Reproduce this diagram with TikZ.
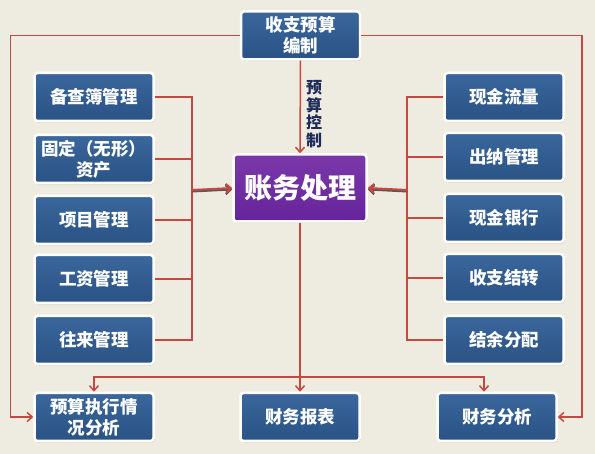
\documentclass[tikz,border=0pt]{standalone}
\usepackage{fontspec}
\setmainfont{Noto Sans CJK SC}
\usepackage{tikz}
\usetikzlibrary{arrows.meta, shadows}

\definecolor{bgpaper}{HTML}{EEEBE0}
\definecolor{boxtop}{HTML}{3A679C}
\definecolor{boxbot}{HTML}{2A5285}
\definecolor{mainTop}{HTML}{7A38AA}
\definecolor{mainBot}{HTML}{65249A}
\definecolor{wirered}{HTML}{C8473F}
\definecolor{navy}{HTML}{1E2C5C}

\begin{document}
\begin{tikzpicture}[x=1pt, y=-1pt,
		box/.style={rounded corners=3pt, draw=white, line width=2.5pt, top color=boxtop, bottom color=boxbot,
			minimum width=119pt, minimum height=48pt, inner sep=1pt, align=center, text=white,
			font=\bfseries\fontsize{17.5}{21}\selectfont,
			drop shadow={shadow xshift=1pt, shadow yshift=-1.5pt, opacity=0.35}},
		mainbox/.style={box, top color=mainTop, bottom color=mainBot, minimum width=133pt, minimum height=67pt,
			font=\bfseries\fontsize{28}{31}\selectfont},
		wire/.style={draw=wirered, line width=1.5pt},
		arr/.style={wire, -{Straight Barb[length=5pt, width=9pt]}},
		mainarr/.style={arr, line width=2pt, preaction={draw=black!65, line width=2pt, transform canvas={yshift=-1.5pt}}}]
	% Background:
	\fill[bgpaper] (0,0) rectangle (595,454);
	\useasboundingbox (0,0) rectangle (595,454);
	% Nodes:
	\node[box](budget) at (300.5,35.5){收支预算\\编制};
	\node[mainbox](main) at (300,188){账务处理};
	\node[box](ledger) at (94,97){备查簿管理};
	\node[box](asset) at (94,159){固定（无形）\\资产};
	\node[box](proj) at (94,220){项目管理};
	\node[box](wage) at (94,279){工资管理};
	\node[box](contact) at (94,340){往来管理};
	\node[box](exec) at (94,417){预算执行情\\况分析};
	\node[box](flow) at (504,97){现金流量};
	\node[box](cashier) at (504,157){出纳管理};
	\node[box](bank) at (504,218){现金银行};
	\node[box](transfer) at (504,278){收支结转};
	\node[box](surplus) at (504,340){结余分配};
	\node[box](report) at (300,417){财务报表};
	\node[box](anal) at (497,417){财务分析};
	\node[text=navy, font=\bfseries\fontsize{16}{17.5}\selectfont, align=center](ctrl) at (314,114){预\\算\\控\\制};
	% Wires:
	\coordinate (lbus) at (192,190);
	\coordinate (rbus) at (407,190);
	\coordinate (bbus) at (300,377);
	\foreach \n in {ledger,asset,proj,wage,contact}
		\draw[wire] (\n.east) -| (lbus);
	\foreach \n in {flow,cashier,bank,transfer,surplus}
		\draw[wire] (\n.west) -| (rbus);
	\draw[mainarr] (lbus) -- (main.west);
	\draw[mainarr] (rbus) -- (main.east);
	\draw[arr] (budget.south) -- (main.north);
	\draw[arr] (budget.west) -| ([xshift=-23pt]exec.west) -- (exec.west);
	\draw[arr] (budget.east) -| ([xshift=24pt]anal.east) -- (anal.east);
	\draw[arr] (main.south) -- (report.north);
	\draw[arr] (bbus) -| (exec.north);
	\draw[arr] (bbus) -| ([xshift=-13pt]anal.north);
\end{tikzpicture}
\end{document}
